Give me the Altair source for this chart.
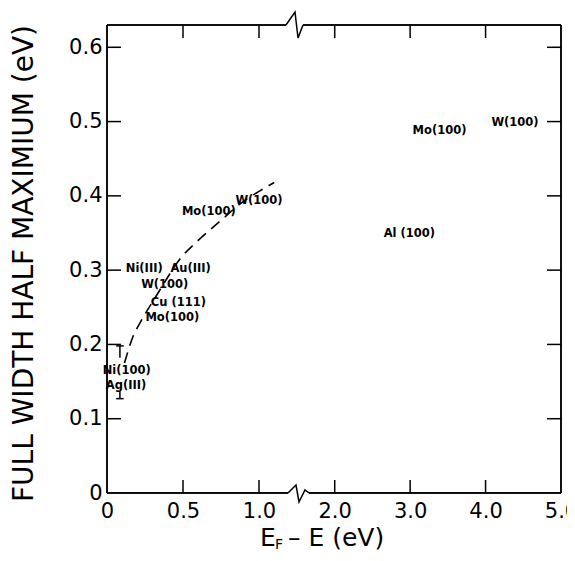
import altair as alt
import pandas as pd

# ---- data ----
x_ticks = [0.5, 1.0, 2.0, 3.0, 4.0]
y_ticks = [0.1, 0.2, 0.3, 0.4, 0.5, 0.6]
x_label_values = [0, 0.5, 1.0, 2.0, 3.0, 4.0, 5.0]
y_label_values = [0, 0.1, 0.2, 0.3, 0.4, 0.5, 0.6]

labels = ["Mo(100)", "W(100)", "Al (100)", "Mo(100)", "W(100)",
          "Ni(III)", "Au(III)", "W(100)", "Cu (111)", "Mo(100)",
          "Ni(100)", "Ag(III)"]
label_x = [3.39, 4.39, 2.99, 0.67, 1.00,
           0.245, 0.55, 0.38, 0.47, 0.43,
           0.13, 0.125]
label_y = [0.487, 0.498, 0.348, 0.378, 0.393,
           0.301, 0.301, 0.280, 0.256, 0.235,
           0.164, 0.144]

curve_x = [0.115, 0.17, 0.22, 0.32, 0.35, 0.48, 0.60, 0.75, 0.90, 1.00, 1.10]
curve_y = [0.175, 0.21, 0.23, 0.264, 0.274, 0.315, 0.34, 0.367, 0.393, 0.406, 0.418]

# error-bar caps (T above, inverted T below)
cap_x1 = [0.06, 0.06]
cap_x2 = [0.11, 0.11]
cap_y = [0.198, 0.127]
stem_x = [0.085, 0.085]
stem_y1 = [0.198, 0.127]
stem_y2 = [0.182, 0.137]

# axis-break zigzags (pixel offsets inside the plot area)
zig_top_px = [179, 188, 191, 196]
zig_top_py = [0, -13, 13, 0]
zig_bot_px = [181, 189, 192, 198, 202]
zig_bot_py = [468, 460, 477, 465, 468]

W, H = 454, 468
FONT = "DejaVu Sans"

xs = alt.Scale(domain=[0, 1.25, 1.5, 5], range=[0, 190, 190, W], zero=False, nice=False)
ys = alt.Scale(domain=[0, 0.63], zero=False, nice=False)

base_axis_x = alt.Axis(values=x_label_values, labelExpr="datum.value == 0 ? '0' : format(datum.value, '.1f')",
                       domain=False, ticks=False, grid=False, labelFont=FONT, labelFontSize=21,
                       labelColor="black", labelPadding=7, title=None, labelFlush=False, labelOverlap=False)
base_axis_y = alt.Axis(values=y_label_values, labelExpr="datum.value == 0 ? '0' : format(datum.value, '.1f')",
                       domain=False, ticks=False, grid=False, labelFont=FONT, labelFontSize=21,
                       labelColor="black", labelPadding=5, title="FULL WIDTH HALF MAXIMIUM (eV)",
                       titleFont=FONT, titleFontSize=28, titleFontWeight="normal", titleColor="black",
                       titleX=-83, titleY=238, titleAngle=-90, titleAlign="center", titleBaseline="middle",
                       labelFlush=False, labelOverlap=False)

# axes carrier (invisible points)
axdf = pd.DataFrame({"x": [0, 5], "y": [0, 0.63]})
axes = alt.Chart(axdf).mark_point(opacity=0).encode(
    x=alt.X("x:Q", scale=xs, axis=base_axis_x),
    y=alt.Y("y:Q", scale=ys, axis=base_axis_y),
)

xt = pd.DataFrame({"v": x_ticks})
yt = pd.DataFrame({"v": y_ticks})
tick_style = dict(color="black", strokeWidth=1.5)
bot_ticks = alt.Chart(xt).mark_rule(**tick_style).encode(
    x=alt.X("v:Q", scale=xs), y=alt.value(H), y2=alt.value(H - 13))
top_ticks = alt.Chart(xt).mark_rule(**tick_style).encode(
    x=alt.X("v:Q", scale=xs), y=alt.value(0), y2=alt.value(13))
left_ticks = alt.Chart(yt).mark_rule(**tick_style).encode(
    y=alt.Y("v:Q", scale=ys), x=alt.value(0), x2=alt.value(14))
right_ticks = alt.Chart(yt).mark_rule(**tick_style).encode(
    y=alt.Y("v:Q", scale=ys), x=alt.value(W), x2=alt.value(W - 14))

# frame
fr = dict(color="black", strokeWidth=1.5)
frame = [
    alt.Chart(axdf).mark_rule(**fr).encode(x=alt.value(0), y=alt.value(0), y2=alt.value(H)),
    alt.Chart(axdf).mark_rule(**fr).encode(x=alt.value(W), y=alt.value(0), y2=alt.value(H)),
    alt.Chart(axdf).mark_rule(**fr).encode(x=alt.value(0), x2=alt.value(zig_top_px[0]), y=alt.value(0)),
    alt.Chart(axdf).mark_rule(**fr).encode(x=alt.value(zig_top_px[-1]), x2=alt.value(W), y=alt.value(0)),
    alt.Chart(axdf).mark_rule(**fr).encode(x=alt.value(0), x2=alt.value(zig_bot_px[0]), y=alt.value(H)),
    alt.Chart(axdf).mark_rule(**fr).encode(x=alt.value(zig_bot_px[-1]), x2=alt.value(W), y=alt.value(H)),
]
zt = pd.DataFrame({"px": zig_top_px, "py": zig_top_py, "o": range(len(zig_top_px))})
zb = pd.DataFrame({"px": zig_bot_px, "py": zig_bot_py, "o": range(len(zig_bot_px))})
zig_top = alt.Chart(zt).mark_line(color="black", strokeWidth=1.5).encode(
    x=alt.X("px:Q", scale=None), y=alt.Y("py:Q", scale=None), order="o:O")
zig_bot = alt.Chart(zb).mark_line(color="black", strokeWidth=1.5).encode(
    x=alt.X("px:Q", scale=None), y=alt.Y("py:Q", scale=None), order="o:O")

# dashed curve
cdf = pd.DataFrame({"x": curve_x, "y": curve_y})
curve = alt.Chart(cdf).mark_line(color="black", strokeWidth=1.6, strokeDash=[11, 7],
                                 interpolate="monotone").encode(
    x=alt.X("x:Q", scale=xs), y=alt.Y("y:Q", scale=ys))

# error bar caps
cap_df = pd.DataFrame({"x1": cap_x1, "x2": cap_x2, "y": cap_y})
caps = alt.Chart(cap_df).mark_rule(color="black", strokeWidth=1.5).encode(
    x=alt.X("x1:Q", scale=xs), x2="x2:Q", y=alt.Y("y:Q", scale=ys))
stem_df = pd.DataFrame({"x": stem_x, "y1": stem_y1, "y2": stem_y2})
stems = alt.Chart(stem_df).mark_rule(color="black", strokeWidth=1.5).encode(
    x=alt.X("x:Q", scale=xs), y=alt.Y("y1:Q", scale=ys), y2="y2:Q")

# annotations
ldf = pd.DataFrame({"t": labels, "x": label_x, "y": label_y})
texts = alt.Chart(ldf).mark_text(font=FONT, fontSize=11.5, fontWeight="bold", color="black",
                                 align="center", baseline="middle").encode(
    x=alt.X("x:Q", scale=xs), y=alt.Y("y:Q", scale=ys), text="t:N")

# x-axis title with subscript
tdf = pd.DataFrame({"a": [0]})
xt1 = alt.Chart(tdf).mark_text(text="E", font=FONT, fontSize=25, color="black",
                               align="left", baseline="alphabetic").encode(
    x=alt.value(153), y=alt.value(521))
xt2 = alt.Chart(tdf).mark_text(text="F", font=FONT, fontSize=14, color="black",
                               align="left", baseline="alphabetic").encode(
    x=alt.value(168), y=alt.value(524))
xt3 = alt.Chart(tdf).mark_text(text="\u2013 E  (eV)", font=FONT, fontSize=25, color="black",
                               align="left", baseline="alphabetic").encode(
    x=alt.value(181), y=alt.value(521))

chart = alt.layer(
    axes, *frame, zig_top, zig_bot, bot_ticks, top_ticks, left_ticks, right_ticks,
    curve, caps, stems, texts, xt1, xt2, xt3
).properties(
    width=W, height=H,
    padding={"left": 99, "top": 17, "right": 6, "bottom": 60},
    autosize=alt.AutoSizeParams(type="none"),
    background="white",
).configure_view(stroke=None)

chart.save("out.html", embed_options={"renderer": "svg", "actions": False})
